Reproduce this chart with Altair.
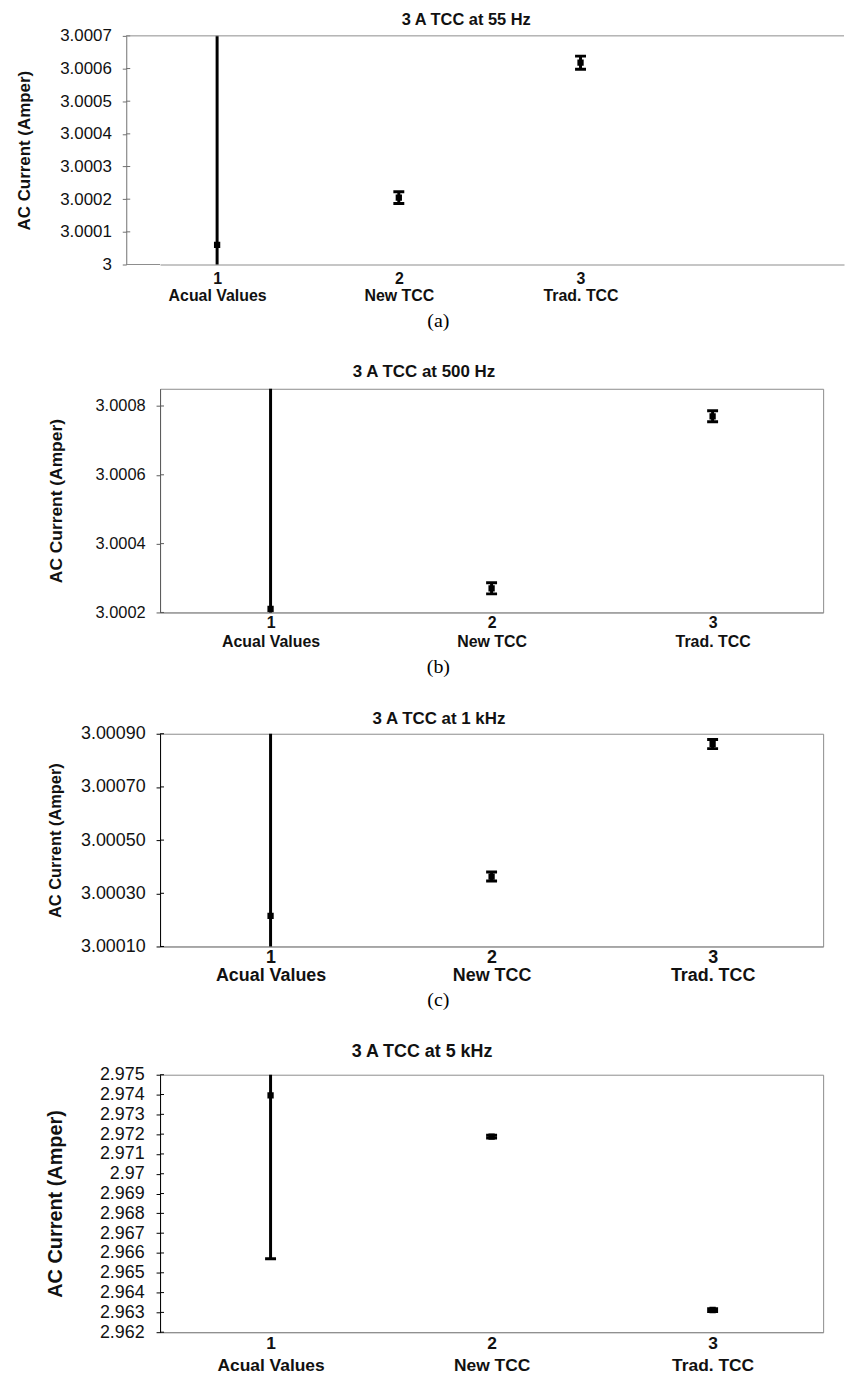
import altair as alt
import pandas as pd

# ---------------- data ----------------
groups = ["Acual Values", "New TCC", "Trad. TCC"]
group_pos = [1, 2, 3]
titles = ["3 A TCC at 55 Hz", "3 A TCC at 500 Hz", "3 A TCC at 1 kHz", "3 A TCC at 5 kHz"]
captions = ["(a)", "(b)", "(c)", ""]
y_title = "AC Current (Amper)"

mean_55 = [3.00006, 3.000205, 3.000618]
err_55 = [0.00825, 0.000018, 0.00002]
ticks_55 = [3.0, 3.0001, 3.0002, 3.0003, 3.0004, 3.0005, 3.0006, 3.0007]

mean_500 = [3.00021, 3.00027, 3.00077]
err_500 = [0.00825, 0.000016, 0.000016]
ticks_500 = [3.0002, 3.0004, 3.0006, 3.0008]

mean_1k = [3.000215, 3.000363, 3.000861]
err_1k = [0.00825, 0.000017, 0.000017]
ticks_1k = [3.0001, 3.0003, 3.0005, 3.0007, 3.0009]

mean_5k = [2.97396, 2.97187, 2.96312]
err_5k = [0.00825, 0.00007, 0.00007]
ticks_5k = [2.962, 2.963, 2.964, 2.965, 2.966, 2.967, 2.968, 2.969,
            2.970, 2.971, 2.972, 2.973, 2.974, 2.975]

label_expr = " : ".join(
    f"datum.value == {p} ? ['{p}', '{g}']" for p, g in zip(group_pos, groups)
) + " : ''"

SANS = "Liberation Sans"
SERIF = "Liberation Serif"
BORDER = "#8c8c8c"


def panel(means, errs, ticks, fmt, ydomain, height, width, xdomain, title,
          left_shift=0, frame=True, title_size=17, title_dx=0,
          title_offset=8, ytitle_size=16, ylabel_size=16, ylabel_pad=11,
          ytitle_pad=27, axis_color="#000000", xlabel_size=16, xlabel_lh=17,
          xlabel_pad=4, caption="", caption_dy=56, caption_x=280):
    df = pd.DataFrame({"pos": group_pos, "group": groups, "mean": means, "err": errs})
    df["lo"] = df["mean"] - df["err"]
    df["hi"] = df["mean"] + df["err"]

    xscale = alt.Scale(domain=xdomain, nice=False, zero=False)
    yscale = alt.Scale(domain=ydomain, nice=False, zero=False)

    xaxis = alt.Axis(values=group_pos, labelExpr=label_expr, labelFont=SANS,
                     labelFontSize=xlabel_size, labelFontWeight="bold",
                     labelColor="#111111", labelLineHeight=xlabel_lh,
                     labelPadding=xlabel_pad, ticks=False, grid=False,
                     domainColor=BORDER, labelFlush=False, title=None)
    yaxis = alt.Axis(values=ticks, format=fmt, title=y_title, titleFont=SANS,
                     titleFontSize=ytitle_size, titleFontWeight="bold",
                     titleColor="#111111", titlePadding=ytitle_pad,
                     labelFont=SANS, labelFontSize=ylabel_size,
                     labelColor="#111111", labelPadding=ylabel_pad,
                     labelOverlap=False, labelFlush=False, grid=False,
                     domainColor=axis_color, tickColor=axis_color, tickSize=4,
                     offset=left_shift)

    X = alt.X("pos:Q", scale=xscale, axis=xaxis)
    base = alt.Chart(df)
    bars = base.mark_rule(color="black", strokeWidth=3, clip=True).encode(
        x=X, y=alt.Y("lo:Q", scale=yscale, axis=yaxis), y2="hi:Q")
    cap_lo = base.mark_tick(color="black", orient="horizontal", size=11,
                            thickness=3, opacity=1, clip=True).encode(
        x=X, y=alt.Y("lo:Q", scale=yscale, axis=yaxis))
    cap_hi = base.mark_tick(color="black", orient="horizontal", size=11,
                            thickness=3, opacity=1, clip=True).encode(
        x=X, y=alt.Y("hi:Q", scale=yscale, axis=yaxis))
    pts = base.mark_square(color="black", size=40, opacity=1, clip=True).encode(
        x=X, y=alt.Y("mean:Q", scale=yscale, axis=yaxis))
    inner = alt.Chart(pd.DataFrame({"t": ticks})).mark_rule(
        color=axis_color, strokeWidth=1).encode(
        y=alt.Y("t:Q", scale=yscale, axis=yaxis),
        x=alt.value(-left_shift), x2=alt.value(-left_shift + 4))
    layers = [bars, cap_lo, cap_hi, pts, inner]

    if not frame:
        # top border and the part of the bottom line left of the plot origin
        top = alt.Chart(pd.DataFrame({"k": [0]})).mark_rule(
            color=BORDER, strokeWidth=1).encode(
            x=alt.value(-left_shift), x2=alt.value(width), y=alt.value(0))
        bot = alt.Chart(pd.DataFrame({"k": [0]})).mark_rule(
            color=BORDER, strokeWidth=1).encode(
            x=alt.value(-left_shift), x2=alt.value(0), y=alt.value(height))
        layers += [top, bot]
    if caption:
        cap = alt.Chart(pd.DataFrame({"c": [caption]})).mark_text(
            font=SERIF, fontSize=20, color="black", align="center",
            baseline="middle").encode(
            text="c:N", x=alt.value(caption_x), y=alt.value(height + caption_dy))
        layers.append(cap)

    view = (alt.ViewBackground(stroke=BORDER, strokeWidth=1) if frame
            else alt.ViewBackground(stroke="transparent", strokeWidth=0))

    return alt.layer(*layers).properties(
        width=width, height=height, view=view,
        title=alt.TitleParams(text=title, font=SANS, fontSize=title_size,
                              fontWeight="bold", color="#111111",
                              anchor="middle", frame="group", dx=title_dx,
                              offset=title_offset),
    )


pa = panel(mean_55, err_55, ticks_55, ".4~f", [3.0, 3.0007], 230, 688,
           [0.686, 4.45], titles[0], left_shift=34,
           frame=False, title_size=16.5, title_dx=-36, title_offset=-2,
           ytitle_size=17, ylabel_size=17, ylabel_pad=11, ytitle_pad=26,
           axis_color="#707070", xlabel_size=16, xlabel_lh=17, xlabel_pad=6,
           caption=captions[0], caption_dy=57, caption_x=280)
pb = panel(mean_500, err_500, ticks_500, ".4f", [3.0002, 3.00085], 225, 667,
           [0.5, 3.5], titles[1], title_dx=-68, title_offset=8, ytitle_size=17.5,
           ylabel_size=16.5, ylabel_pad=11, ytitle_pad=30, axis_color="#5a5a5a",
           xlabel_size=16, xlabel_lh=19, xlabel_pad=2, caption=captions[1],
           caption_dy=55, caption_x=280)
pc = panel(mean_1k, err_1k, ticks_1k, ".5f", [3.0001, 3.0009], 214, 667,
           [0.5, 3.5], titles[2], title_dx=-53, title_offset=-3, ytitle_size=16.5,
           ylabel_size=18, ylabel_pad=11, ytitle_pad=17, axis_color="#000000",
           xlabel_size=18, xlabel_lh=18, xlabel_pad=2, caption=captions[2],
           caption_dy=54, caption_x=280)
pd_ = panel(mean_5k, err_5k, ticks_5k, ".3~f", [2.962, 2.975], 259, 667,
            [0.5, 3.5], titles[3], title_dx=-70, title_offset=5, title_size=18,
            ytitle_size=20, ylabel_size=18, ylabel_pad=12, ytitle_pad=34,
            axis_color="#000000", xlabel_size=17.5, xlabel_lh=23,
            xlabel_pad=2)

chart = alt.vconcat(pa, pb, pc, pd_, spacing=31).properties(
    padding={"left": 16, "top": 8, "right": 0, "bottom": 0},
    background="white",
)

chart.save("out.html", embed_options={"renderer": "svg", "actions": False})
